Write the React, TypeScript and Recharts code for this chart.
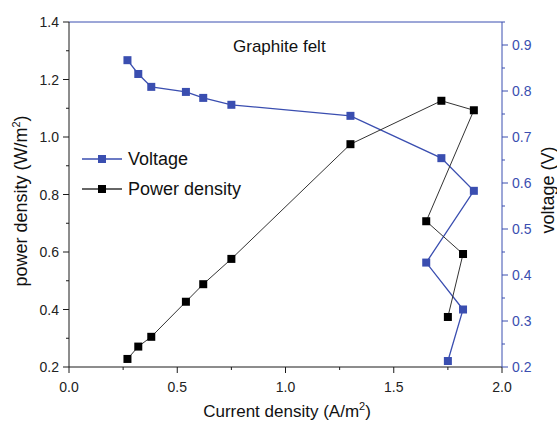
import { ComposedChart, Line, XAxis, YAxis, ReferenceLine } from 'recharts';

// values
const current = [0.27, 0.32, 0.38, 0.54, 0.62, 0.75, 1.30, 1.72, 1.87, 1.65, 1.82, 1.75];
const voltage = [0.867, 0.837, 0.809, 0.798, 0.785, 0.770, 0.746, 0.654, 0.583, 0.427, 0.325, 0.213];
const power = [0.228, 0.271, 0.305, 0.427, 0.488, 0.576, 0.975, 1.126, 1.093, 0.707, 0.593, 0.374];

const xTicks = [0, 0.25, 0.5, 0.75, 1, 1.25, 1.5, 1.75, 2];
const leftTicks = [0.2, 0.3, 0.4, 0.5, 0.6, 0.7, 0.8, 0.9, 1.0, 1.1, 1.2, 1.3, 1.4];
const rightTicks = [0.2, 0.25, 0.3, 0.35, 0.4, 0.45, 0.5, 0.55, 0.6, 0.65, 0.7, 0.75, 0.8, 0.85, 0.9, 0.95];

const data = current.map((c, i) => ({ x: c, voltage: voltage[i], power: power[i] }));

const BLUE = '#3a4eb0';
const BLACK = '#1a1a1a';
const FONT = '"Liberation Sans", Arial, sans-serif';

const legendItems = [
    { name: 'Voltage', line: BLUE, marker: BLUE },
    { name: 'Power density', line: '#333', marker: '#000' },
];

const isMajor = (v: number, step: number) => Math.abs(v / step - Math.round(v / step)) < 1e-6;

const XTick = ({ x, y, payload }: any) => {
    const major = isMajor(payload.value, 0.5);
    return (
        <g>
            <line x1={x} x2={x} y1={y} y2={y + (major ? 6 : 3)} stroke={BLACK} />
            {major && (
                <text x={x} y={y + 25} textAnchor="middle" fontSize={14} fill="#222" fontFamily={FONT}>
                    {payload.value.toFixed(1)}
                </text>
            )}
        </g>
    );
};

const LeftTick = ({ x, y, payload }: any) => {
    const major = isMajor(payload.value, 0.2);
    return (
        <g>
            <line x1={x} x2={x - (major ? 6 : 3)} y1={y} y2={y} stroke={BLACK} />
            {major && (
                <text x={x - 10} y={y + 5} textAnchor="end" fontSize={14} fill="#222" fontFamily={FONT}>
                    {payload.value.toFixed(1)}
                </text>
            )}
        </g>
    );
};

const RightTick = ({ x, y, payload }: any) => {
    const major = isMajor(payload.value, 0.1);
    return (
        <g>
            <line x1={x} x2={x + (major ? 6 : 3)} y1={y} y2={y} stroke={BLUE} />
            {major && (
                <text x={x + 10} y={y + 5} textAnchor="start" fontSize={14} fill={BLUE} fontFamily={FONT}>
                    {payload.value.toFixed(1)}
                </text>
            )}
        </g>
    );
};

const square = (color: string) => (props: any) => {
    const { cx, cy, index } = props;
    return <rect key={index} x={cx - 4} y={cy - 4} width={8} height={8} fill={color} />;
};

export default function App() {
    return (
        <div style={{ position: 'absolute', left: 0, top: 0, width: 557, height: 426, background: '#fff', fontFamily: FONT }}>
            <ComposedChart width={557} height={426} data={data} margin={{ top: 22, right: 0, left: 0, bottom: 0 }}>
                <XAxis
                    dataKey="x"
                    type="number"
                    domain={[0, 2]}
                    ticks={xTicks}
                    interval={0}
                    height={59}
                    stroke={BLACK}
                    tickSize={0}
                    tickMargin={0}
                    tick={<XTick />}
                />
                <YAxis
                    yAxisId="left"
                    orientation="left"
                    type="number"
                    domain={[0.2, 1.4]}
                    ticks={leftTicks}
                    interval={0}
                    width={69}
                    stroke={BLACK}
                    tickSize={0}
                    tickMargin={0}
                    tick={<LeftTick />}
                />
                <YAxis
                    yAxisId="right"
                    orientation="right"
                    type="number"
                    domain={[0.2, 0.95]}
                    ticks={rightTicks}
                    interval={0}
                    width={55}
                    stroke={BLUE}
                    tickSize={0}
                    tickMargin={0}
                    tick={<RightTick />}
                />
                <ReferenceLine yAxisId="left" y={1.4} stroke={BLUE} />
                <Line
                    yAxisId="right"
                    dataKey="voltage"
                    name="Voltage"
                    type="linear"
                    stroke={BLUE}
                    strokeWidth={1.3}
                    dot={square(BLUE)}
                    isAnimationActive={false}
                />
                <Line
                    yAxisId="left"
                    dataKey="power"
                    name="Power density"
                    type="linear"
                    stroke="#333"
                    strokeWidth={1}
                    dot={square('#000')}
                    isAnimationActive={false}
                />
            </ComposedChart>

            {/* legend */}
            <div style={{ position: 'absolute', left: 82, top: 148, display: 'flex', flexDirection: 'column', gap: 8 }}>
                {legendItems.map((item) => (
                    <div key={item.name} style={{ display: 'flex', alignItems: 'center', height: 22 }}>
                        <svg width={42} height={10} style={{ flexShrink: 0 }}>
                            <line x1={0} x2={40} y1={5} y2={5} stroke={item.line} strokeWidth={1.3} />
                            <rect x={16} y={1} width={8} height={8} fill={item.marker} />
                        </svg>
                        <span style={{ fontSize: 18, color: '#111', marginLeft: 4 }}>{item.name}</span>
                    </div>
                ))}
            </div>

            <div style={{ position: 'absolute', left: 233, top: 37, fontSize: 17, color: '#111', whiteSpace: 'nowrap' }}>
                Graphite felt
            </div>
            <div style={{ position: 'absolute', left: 0, width: 574, top: 400, textAlign: 'center', fontSize: 17, color: '#111' }}>
                Current density (A/m<sup style={{ fontSize: 11 }}>2</sup>)
            </div>
            <div style={{ position: 'absolute', left: 21, top: 201, width: 0, height: 0 }}>
                <div style={{ position: 'absolute', transform: 'translate(-50%, -50%) rotate(-90deg)', whiteSpace: 'nowrap', fontSize: 18, color: '#111' }}>
                    power density (W/m<sup style={{ fontSize: 11 }}>2</sup>)
                </div>
            </div>
            <div style={{ position: 'absolute', left: 548, top: 190, width: 0, height: 0 }}>
                <div style={{ position: 'absolute', transform: 'translate(-50%, -50%) rotate(-90deg)', whiteSpace: 'nowrap', fontSize: 18, color: '#111' }}>
                    voltage (V)
                </div>
            </div>
        </div>
    );
}
